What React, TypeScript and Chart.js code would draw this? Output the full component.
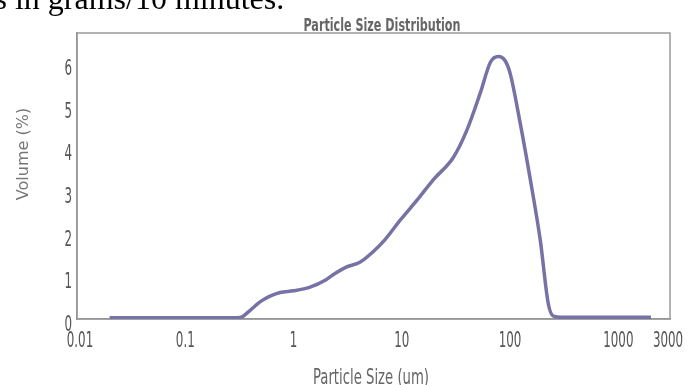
import React, { useEffect, useRef } from "react";
import { Chart, registerables } from "chart.js";

Chart.register(...registerables);

const particleSizes = [0.02, 0.05, 0.1, 0.2, 0.3, 0.335, 0.4, 0.49, 0.6, 0.75, 1.0, 1.4, 2.0, 2.3, 3.1, 4.1, 5.4, 7, 9.7, 14, 19.5, 30, 40, 53, 66, 78, 90, 100, 124, 154, 190, 225, 250, 300, 500, 1000, 2000];
const volumePct = [0.03, 0.03, 0.03, 0.03, 0.03, 0.05, 0.21, 0.4, 0.53, 0.62, 0.66, 0.74, 0.92, 1.03, 1.22, 1.33, 1.57, 1.86, 2.32, 2.8, 3.26, 3.79, 4.43, 5.29, 6.02, 6.15, 6.05, 5.76, 4.59, 3.26, 1.85, 0.37, 0.07, 0.04, 0.04, 0.04, 0.04];
const xTickValues = [0.01, 0.1, 1, 10, 100, 1000, 3000];
const xTickLabels = ["0.01", "0.1", "1", "10", "100", "1000", "3000"];
const yTickValues = [0, 1, 2, 3, 4, 5, 6];
const yTickLabels = ["0", "1", "2", "3", "4", "5", "6"];

const chartTitle = "Particle Size Distribution";
const xTitle = "Particle Size (um)";
const yTitle = "Volume (%)";
const topText = "s in grams/10 minutes.";

const NARROW = '"Liberation Sans Narrow", "DejaVu Sans Condensed", sans-serif';

function drawFitted(ctx: CanvasRenderingContext2D, text: string, cx: number, baseline: number, font: string, width: number, color: string) {
  ctx.save();
  ctx.font = font;
  ctx.fillStyle = color;
  ctx.textAlign = "center";
  ctx.textBaseline = "alphabetic";
  const m = ctx.measureText(text).width;
  const s = width / m;
  ctx.translate(cx, baseline);
  ctx.scale(s, 1);
  ctx.fillText(text, 0, 0);
  ctx.restore();
}

function drawSqueezed(ctx: CanvasRenderingContext2D, text: string, x: number, baseline: number, font: string, sx: number, align: CanvasTextAlign, color: string) {
  ctx.save();
  ctx.font = font;
  ctx.fillStyle = color;
  ctx.textAlign = align;
  ctx.textBaseline = "alphabetic";
  ctx.translate(x, baseline);
  ctx.scale(sx, 1);
  ctx.fillText(text, 0, 0);
  ctx.restore();
}

const decorPlugin = {
  id: "decor",
  beforeDatasetsDraw(chart: any) {
    const { ctx, chartArea } = chart;
    ctx.save();
    ctx.strokeStyle = "#9a9a9a";
    ctx.lineWidth = 1.5;
    ctx.strokeRect(chartArea.left, chartArea.top, chartArea.right - chartArea.left, chartArea.bottom - chartArea.top);
    ctx.restore();
  },
  afterDraw(chart: any) {
    const { ctx } = chart;
    const xs = chart.scales.x;
    const ys = chart.scales.y;
    const tickFont = `22px ${NARROW}`;
    xTickValues.forEach((v, i) => {
      let px = xs.getPixelForValue(v);
      if (i === 0) px += 3;
      if (i === xTickValues.length - 1) px -= 2;
      drawSqueezed(ctx, xTickLabels[i], px, 347, tickFont, 0.6, "center", "#555");
    });
    yTickValues.forEach((v, i) => {
      const py = ys.getPixelForValue(v);
      drawSqueezed(ctx, yTickLabels[i], 72, py + 12, tickFont, 0.6, "right", "#555");
    });
    drawFitted(ctx, chartTitle, 382, 31, `bold 18px ${NARROW}`, 157, "#666");
    drawFitted(ctx, xTitle, 371, 384, `22px ${NARROW}`, 116, "#666");
    ctx.save();
    ctx.translate(24, 154);
    ctx.rotate(-Math.PI / 2);
    ctx.font = '16px "DejaVu Sans", sans-serif';
    ctx.fillStyle = "#777";
    ctx.textAlign = "center";
    ctx.textBaseline = "middle";
    ctx.fillText(yTitle, 0, 0);
    ctx.restore();
  },
};

export default function App() {
  const ref = useRef<HTMLCanvasElement | null>(null);
  useEffect(() => {
    if (!ref.current) return;
    const chart = new Chart(ref.current, {
      type: "line",
      data: {
        datasets: [
          {
            data: particleSizes.map((x, i) => ({ x, y: volumePct[i] })),
            borderColor: "rgb(118,114,166)",
            borderWidth: 3.5,
            pointRadius: 0,
            fill: false,
            cubicInterpolationMode: "monotone",
          },
        ],
      },
      options: {
        animation: false,
        responsive: false,
        devicePixelRatio: 1,
        layout: { padding: { left: 0, right: 19, top: 33, bottom: 0 } },
        plugins: { legend: { display: false }, tooltip: { enabled: false }, title: { display: false } },
        scales: {
          x: {
            type: "logarithmic",
            min: 0.01,
            max: 3000,
            grid: { display: false, drawTicks: false },
            border: { display: true, color: "#8a8a8a", width: 1.5 },
            afterBuildTicks: (scale: any) => {
              scale.ticks = xTickValues.map((v) => ({ value: v }));
            },
            afterFit: (scale: any) => {
              scale.height = 66;
              scale.paddingLeft = 0;
              scale.paddingRight = 0;
            },
            ticks: { display: false },
          },
          y: {
            min: 0,
            max: 6.7,
            grid: { display: false, drawTicks: false },
            border: { display: true, color: "#8a8a8a", width: 1.5 },
            afterBuildTicks: (scale: any) => {
              scale.ticks = yTickValues.map((v) => ({ value: v }));
            },
            afterFit: (scale: any) => {
              scale.width = 77;
              scale.paddingTop = 0;
              scale.paddingBottom = 0;
            },
            ticks: { display: false },
          },
        },
      },
      plugins: [decorPlugin],
    } as any);
    return () => chart.destroy();
  }, []);

  return (
    <div style={{ position: "fixed", left: 0, top: 0, width: 689, height: 385, overflow: "hidden", background: "#fff" }}>
      <canvas ref={ref} width={689} height={385} style={{ position: "absolute", left: 0, top: 0 }} />
      <div
        style={{
          position: "absolute",
          left: -5.5,
          top: -18,
          fontFamily: '"Liberation Serif", "Times New Roman", serif',
          fontSize: 32,
          lineHeight: "32px",
          color: "#000",
          whiteSpace: "nowrap",
        }}
      >
        {topText}
      </div>
    </div>
  );
}
